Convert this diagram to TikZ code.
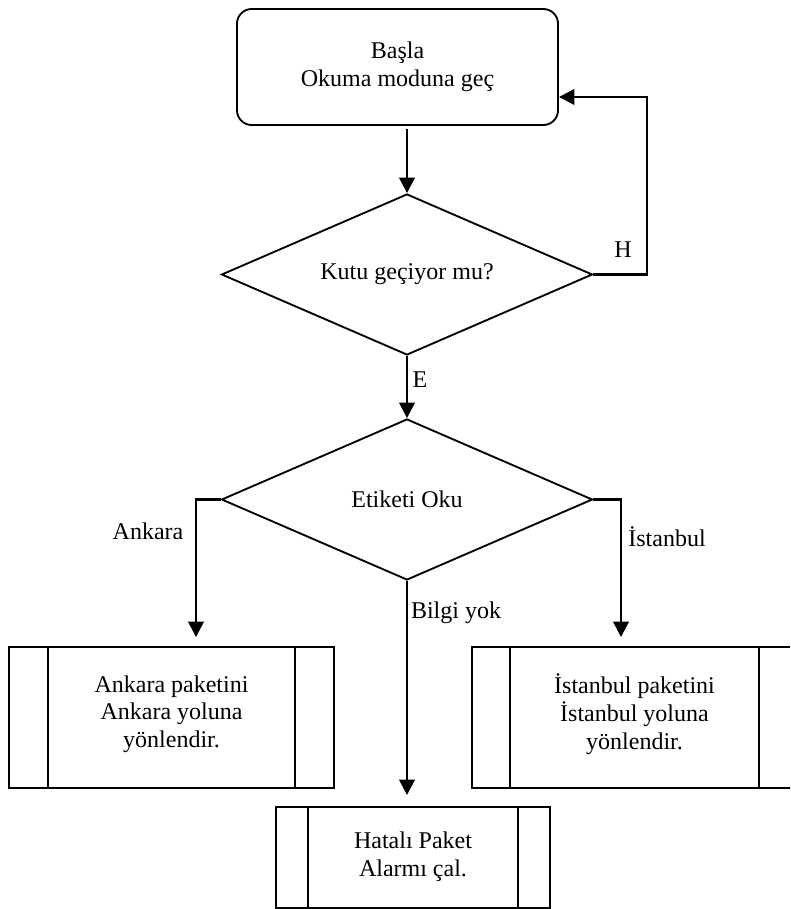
\documentclass[tikz,border=0pt]{standalone}
\usepackage{fontspec}
\setmainfont{Liberation Serif}
\usetikzlibrary{shapes.geometric,arrows.meta,calc}

\begin{document}
\begin{tikzpicture}[x=0.75pt, y=-0.75pt, line width=1.4pt,
  every node/.style={font=\fontsize{18}{20.7}\selectfont, align=center, inner sep=0pt},
  flow/.style={line width=1.9pt, -{Triangle[length=11.5pt,width=11.5pt]}},
  decision/.style={draw, diamond, aspect=2.3, minimum width=278.25pt, minimum height=120.75pt},
  procbox/.style={draw, rectangle, minimum width=243.75pt, minimum height=105.75pt, text depth=9pt}]
\clip (0,0) rectangle (790,909);
\node[draw, rounded corners=11pt, minimum width=240.75pt, minimum height=87pt] (start) at (397.5,67) {Başla\\Okuma moduna geç};
\node[decision] (d1) at (407,274.5) {Kutu geçiyor mu?};
\node[decision] (d2) at (407,499.5) {Etiketi Oku};
\node[procbox] (ank) at (171.5,717.5) {Ankara paketini\\Ankara yoluna\\yönlendir.};
\node[procbox] (ist) at (634.5,717.5) {İstanbul paketini\\İstanbul yoluna\\yönlendir.};
\node[procbox, minimum width=205.5pt, minimum height=75.75pt, text depth=5pt] (hata) at (413,857.5) {Hatalı Paket\\Alarmı çal.};
\foreach \n/\d in {ank/40,ist/39,hata/33}
  \draw ($(\n.north west)+(\d,0)$) -- ($(\n.south west)+(\d,0)$)
        ($(\n.north east)-(\d,0)$) -- ($(\n.south east)-(\d,0)$);
\draw[flow] ($(start.south -| d1.north)+(0,3)$) -- (d1.north);
\draw[flow] (d1.east) -- ++(53.5,0) |- ($(start.east)+(0,30)$);
\draw[flow] (d1.south) -- (d2.north);
\draw[flow] (d2.west) -| ($(ank.north)+(24.5,-9)$);
\draw[flow] (d2.east) -| ($(ist.north)+(-13.5,-9)$);
\draw[flow] (d2.south) -- ($(hata.north)+(-6,-11)$);
\node (lblH) at (623,250) {H};
\node (lblE) at (420,380) {E};
\node (lblAnk) at (148,531) {Ankara};
\node (lblIst) at (667,537) {İstanbul};
\node (lblBilgi) at (456,613) {Bilgi yok};
\end{tikzpicture}
\end{document}
